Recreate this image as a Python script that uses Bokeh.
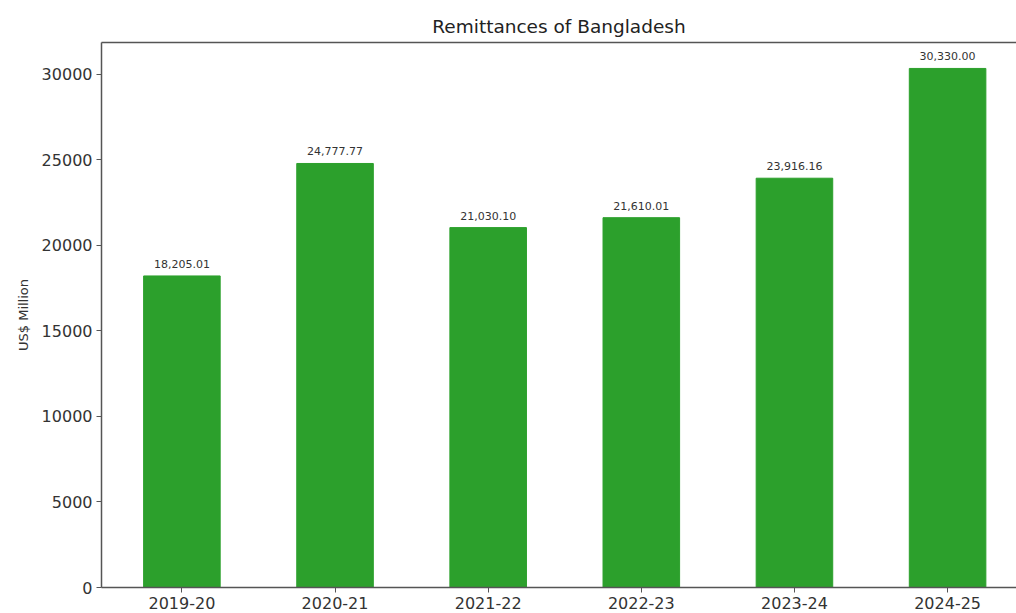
from bokeh.plotting import figure
from bokeh.models import LinearAxis, FixedTicker, Range1d, ColumnDataSource
from bokeh.core.properties import value
from bokeh.embed import file_html
from bokeh.resources import INLINE

years = ["2019-20", "2020-21", "2021-22", "2022-23", "2023-24", "2024-25"]
remittances = [18205.01, 24777.77, 21030.10, 21610.01, 23916.16, 30330.00]
bar_labels = ["18,205.01", "24,777.77", "21,030.10", "21,610.01", "23,916.16", "30,330.00"]
y_ticks = [0, 5000, 10000, 15000, 20000, 25000, 30000]

xs = list(range(len(years)))
src = ColumnDataSource(dict(x=xs, top=remittances, label=bar_labels))

FONT = "DejaVu Sans"
AX = "#555555"
TXT = "#333333"

p = figure(width=1016, height=613, output_backend="svg", toolbar_location=None,
           x_range=Range1d(-0.525, 5.45), y_range=Range1d(0, max(remittances) * 1.05),
           min_border_left=101, min_border_right=0, min_border_top=42, min_border_bottom=26,
           title="Remittances of Bangladesh")

p.vbar(x="x", top="top", width=0.5, bottom=0, source=src,
       fill_color="#2ca02c", line_color="#2ca02c")
p.text(x="x", y="top", text="label", source=src, text_align="center",
       text_baseline="bottom", y_offset=-8, text_font=value(FONT),
       text_font_size="11px", text_color=TXT)

p.title.align = "center"
p.title.offset = 6
p.title.standoff = 0
p.title.vertical_align = "bottom"
p.title.text_font = FONT
p.title.text_font_size = "18.5px"
p.title.text_font_style = "normal"
p.title.text_color = "#222222"

p.outline_line_color = None
p.xgrid.visible = False
p.ygrid.visible = False

xa = p.xaxis[0]
xa.ticker = FixedTicker(ticks=xs)
xa.major_label_overrides = {i: y for i, y in enumerate(years)}
ya = p.yaxis[0]
ya.ticker = FixedTicker(ticks=y_ticks)
ya.axis_label = "US$ Million"
ya.axis_label_text_font = FONT
ya.axis_label_text_font_size = "13px"
ya.axis_label_text_font_style = "normal"
ya.axis_label_text_color = TXT
ya.axis_label_standoff = 8

for ax in (xa, ya):
    ax.axis_line_color = AX
    ax.axis_line_width = 1.5
    ax.major_tick_line_color = AX
    ax.major_tick_in = 0
    ax.major_tick_out = 5
    ax.minor_tick_line_color = None
    ax.major_label_text_font = FONT
    ax.major_label_text_font_size = "16px"
    ax.major_label_text_color = TXT
    ax.major_label_standoff = 4

top_ax = LinearAxis(axis_line_color=AX, axis_line_width=1.5,
                    major_tick_line_color=None, minor_tick_line_color=None,
                    major_label_text_font_size="0px", major_label_text_color=None)
p.add_layout(top_ax, "above")

open("out.html", "w").write(file_html(p, INLINE))
